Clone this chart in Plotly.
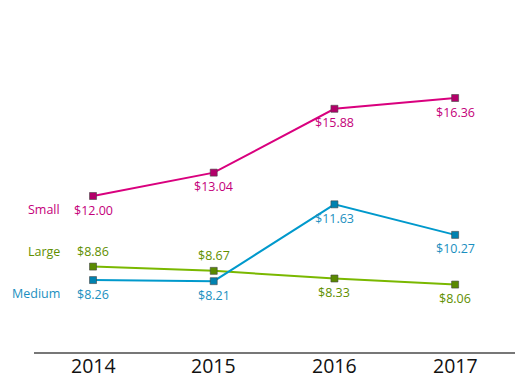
import plotly.graph_objects as go

years = [2014, 2015, 2016, 2017]
year_labels = ["2014", "2015", "2016", "2017"]
small = [12.00, 13.04, 15.88, 16.36]
large = [8.86, 8.67, 8.33, 8.06]
medium = [8.26, 8.21, 11.63, 10.27]

series = [
    ("Small", small, "#d9007e", "#b3006a", "#c4007a", ["below"] * 4),
    ("Large", large, "#7ab800", "#5a8a00", "#5f8f00", ["above", "above", "below", "below"]),
    ("Medium", medium, "#0099cc", "#0082b0", "#1a8fc0", ["below"] * 4),
]

fig = go.Figure()
for name, vals, lc, mc, tc, pos in series:
    fig.add_trace(go.Scatter(
        x=years, y=vals, mode="lines+markers", name=name,
        line=dict(color=lc, width=2),
        marker=dict(symbol="square", size=7, color=mc, line=dict(color="#444444", width=0.6)),
        cliponaxis=False, hoverinfo="skip",
    ))
    for x, v, p in zip(years, vals, pos):
        fig.add_annotation(
            x=x, y=v, text=f"${v:.2f}", showarrow=False,
            yshift=(15 if p == "above" else -14),
            font=dict(family="Open Sans", size=12.5, color=tc),
        )
    fig.add_annotation(
        x=years[0], y=vals[0], text=name, showarrow=False,
        xanchor="right", xshift=-31, yshift=(15 if pos[0] == "above" else -13),
        font=dict(family="Open Sans", size=12.5, color=tc),
    )

for x, lab in zip(years, year_labels):
    fig.add_annotation(
        x=x, y=0, yref="paper", text=lab, showarrow=False,
        yanchor="top", yshift=1, borderpad=0,
        font=dict(family="Open Sans", size=19.5, color="#111111"),
    )

fig.update_layout(
    width=517, height=372, showlegend=False,
    margin=dict(l=26, r=10, t=12, b=28, autoexpand=False),
    plot_bgcolor="white", paper_bgcolor="white",
    xaxis=dict(range=[2013.511, 2017.496], tickvals=years, showticklabels=False,
               showgrid=False, zeroline=False, showline=True, linecolor="#777777", linewidth=2,
               ticks=""),
    yaxis=dict(range=[5.06, 19.83], visible=False, showgrid=False, zeroline=False),
)
fig.write_html("out.html")
